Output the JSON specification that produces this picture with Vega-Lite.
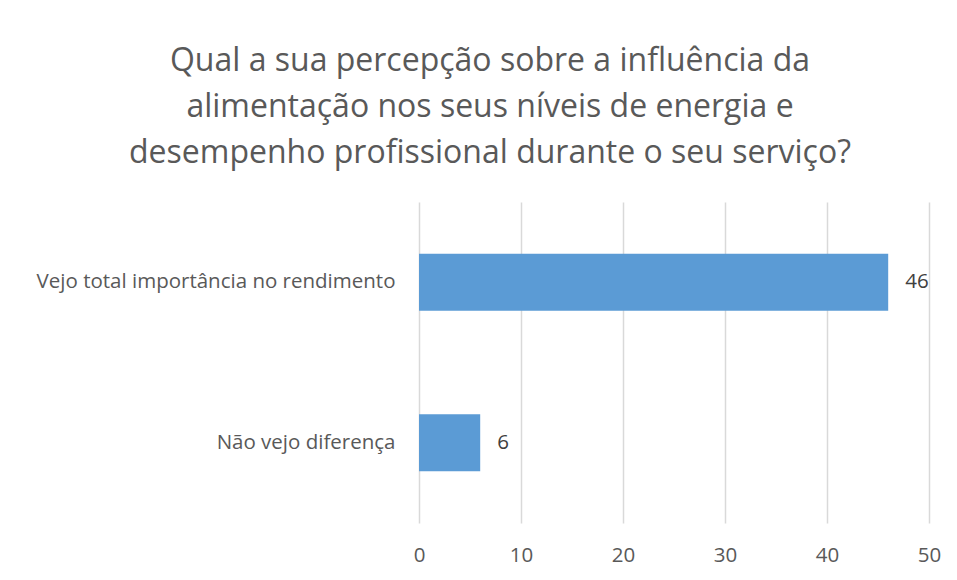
{
  "$schema": "https://vega.github.io/schema/vega-lite/v6.json",
  "autosize": {"type": "none"},
  "width": 510,
  "height": 321,
  "padding": {"left": 419, "top": 202, "right": 28, "bottom": 57},
  "background": "white",
  "title": {
    "text": ["Qual a sua percepção sobre a influência da", "alimentação nos seus níveis de energia e", "desempenho profissional durante o seu serviço?"],
    "anchor": "middle",
    "frame": "group",
    "dx": -184,
    "offset": 32,
    "font": "Open Sans",
    "fontSize": 32,
    "fontWeight": "normal",
    "color": "#595959",
    "lineHeight": 46
  },
  "data": {
    "values": [
      {"category": "Vejo total importância no rendimento", "count": 46},
      {"category": "Não vejo diferença", "count": 6}
    ]
  },
  "encoding": {
    "y": {
      "field": "category",
      "type": "nominal",
      "sort": null,
      "title": null,
      "scale": {"paddingInner": 0.645, "paddingOuter": 0.3225},
      "axis": {
        "ticks": false,
        "domain": false,
        "grid": false,
        "labelPadding": 24,
        "labelFont": "Open Sans",
        "labelFontSize": 20.5,
        "labelColor": "#595959",
        "labelLimit": 500
      }
    },
    "x": {
      "field": "count",
      "type": "quantitative",
      "title": null,
      "scale": {"domain": [0, 50], "nice": false},
      "axis": {
        "values": [0, 10, 20, 30, 40, 50],
        "ticks": false,
        "domain": false,
        "grid": true,
        "gridColor": "#d9d9d9",
        "gridWidth": 1.5,
        "labelPadding": 22,
        "labelFont": "Open Sans",
        "labelFontSize": 20.5,
        "labelColor": "#595959",
        "labelFlush": false
      }
    }
  },
  "layer": [
    {"mark": {"type": "bar", "color": "#5B9BD5"}},
    {
      "mark": {"type": "text", "align": "left", "dx": 17, "font": "Open Sans", "fontSize": 20.5, "color": "#404040"},
      "encoding": {"text": {"field": "count", "type": "quantitative"}}
    }
  ],
  "config": {"view": {"stroke": null}}
}
